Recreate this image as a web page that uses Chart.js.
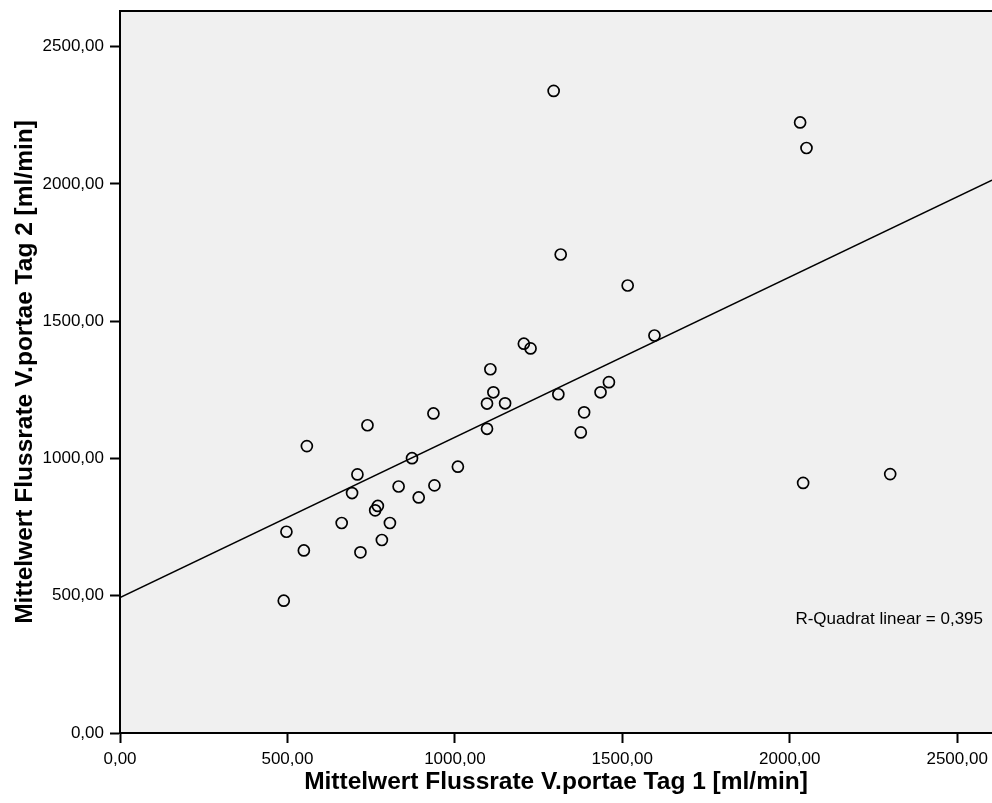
<!DOCTYPE html>
<html>
<head>
<meta charset="utf-8">
<script src="https://cdn.jsdelivr.net/npm/chart.js@4"></script>
<style>
  html, body { margin: 0; padding: 0; background: #ffffff; }
  #wrap { width: 992px; height: 803px; position: relative; }
</style>
</head>
<body>
<div id="wrap"><canvas id="c" width="992" height="803"></canvas></div>
<script>
// ---- data ----
const day1 = [1295, 2031, 2050, 1316, 1516, 1596, 1206, 1226, 1106, 1115,
              1309, 1460, 1435, 1096, 1150, 936, 1386, 739, 1096, 1376,
              558, 1009, 872, 709, 2300, 2040, 693, 832, 939, 892,
              770, 762, 662, 806, 497, 782, 549, 718, 489];
const day2 = [2339, 2224, 2131, 1743, 1630, 1448, 1418, 1401, 1325, 1241,
              1234, 1278, 1241, 1200, 1201, 1164, 1168, 1121, 1108, 1095,
              1045, 970, 1001, 942, 943, 911, 874, 898, 902, 858,
              827, 811, 765, 765, 733, 703, 665, 658, 482];
const fitX = [0, 2604];
const fitY = [493, 2014];
const xTicks = [0, 500, 1000, 1500, 2000, 2500];
const yTicks = [0, 500, 1000, 1500, 2000, 2500];
const xRange = [0, 2604];
const yRange = [0, 2630];
const xTitle = 'Mittelwert Flussrate V.portae Tag 1 [ml/min]';
const yTitle = 'Mittelwert Flussrate V.portae Tag 2 [ml/min]';
const r2Label = 'R-Quadrat linear = 0,395';

const FONT = '"Liberation Sans", Arial, Helvetica, sans-serif';
const fmt = v => v.toFixed(2).replace('.', ',');

const points = day1.map((x, i) => ({ x: x, y: day2[i] }));
const fitPts = fitX.map((x, i) => ({ x: x, y: fitY[i] }));

const plotDeco = {
  id: 'plotDeco',
  beforeDraw(chart) {
    const { ctx, chartArea: a } = chart;
    ctx.save();
    ctx.fillStyle = '#f0f0f0';
    ctx.fillRect(a.left, a.top, a.right - a.left, a.bottom - a.top);
    ctx.restore();
  },
  afterDraw(chart) {
    const { ctx, chartArea: a } = chart;
    ctx.save();
    ctx.strokeStyle = '#000';
    ctx.lineWidth = 2;
    ctx.beginPath();
    ctx.moveTo(a.left - 1, a.top);
    ctx.lineTo(a.right, a.top);
    ctx.stroke();
    ctx.fillStyle = '#000';
    ctx.font = '17px ' + FONT;
    ctx.textAlign = 'right';
    ctx.textBaseline = 'middle';
    ctx.fillText(r2Label, 983, 619);
    ctx.restore();
  }
};

function keepTicks(list) {
  return function (scale) {
    scale.ticks = list.map(v => ({ value: v }));
  };
}
function fixSize(prop, size) {
  return function (scale) {
    scale[prop] = size;
    scale.paddingLeft = 0;
    scale.paddingRight = 0;
    scale.paddingTop = 0;
    scale.paddingBottom = 0;
  };
}

new Chart(document.getElementById('c'), {
  type: 'scatter',
  data: {
    datasets: [
      {
        type: 'line',
        data: fitPts,
        borderColor: '#000',
        borderWidth: 1.5,
        pointRadius: 0,
        fill: false,
        tension: 0
      },
      {
        type: 'scatter',
        data: points,
        pointRadius: 5.5,
        pointBorderWidth: 1.7,
        pointBorderColor: '#000',
        pointBackgroundColor: 'rgba(0,0,0,0)',
        pointStyle: 'circle'
      }
    ]
  },
  options: {
    responsive: false,
    animation: false,
    events: [],
    layout: { autoPadding: false, padding: { top: 11, right: 0, left: 0, bottom: 0 } },
    plugins: { legend: { display: false }, tooltip: { enabled: false } },
    scales: {
      x: {
        type: 'linear',
        position: 'bottom',
        min: xRange[0],
        max: xRange[1],
        afterBuildTicks: keepTicks(xTicks),
        afterFit: fixSize('height', 70),
        border: { display: true, color: '#000', width: 2 },
        grid: { drawOnChartArea: false, drawTicks: true, tickLength: 10, tickWidth: 2, tickColor: '#000' },
        ticks: { color: '#000', font: { family: FONT, size: 17 }, padding: 6, maxRotation: 0, callback: v => fmt(v) },
        title: { display: true, text: xTitle, color: '#000', font: { family: FONT, size: 24.5, weight: 'bold' }, padding: { top: 0, bottom: 6 } }
      },
      y: {
        type: 'linear',
        position: 'left',
        min: yRange[0],
        max: yRange[1],
        afterBuildTicks: keepTicks(yTicks),
        afterFit: fixSize('width', 120),
        border: { display: true, color: '#000', width: 2 },
        grid: { drawOnChartArea: false, drawTicks: true, tickLength: 10, tickWidth: 2, tickColor: '#000' },
        ticks: { color: '#000', font: { family: FONT, size: 17 }, padding: 6, callback: v => fmt(v) },
        title: { display: true, text: yTitle, color: '#000', font: { family: FONT, size: 24.5, weight: 'bold' }, padding: { top: 11, bottom: 0 } }
      }
    }
  },
  plugins: [plotDeco]
});
</script>
</body>
</html>
